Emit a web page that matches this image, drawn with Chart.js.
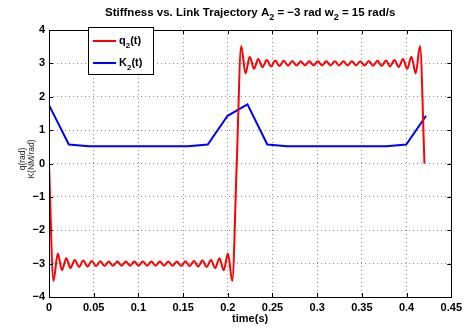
<!DOCTYPE html>
<html>
<head>
<meta charset="utf-8">
<script src="https://cdn.jsdelivr.net/npm/chart.js@4.4.1/dist/chart.umd.min.js"></script>
<style>
  html, body { margin: 0; padding: 0; background: #fff; }
  #wrap { width: 466px; height: 327px; }
</style>
</head>
<body>
<div id="wrap"><canvas id="stiffChart" width="466" height="327"></canvas></div>
<script>
// q2(t): turning points of the ringing
const qTime = [
  0, 0.0050, 0.0098, 0.0145, 0.0193, 0.0240, 0.0288, 0.0336, 0.0383, 0.0431, 0.0478,
  0.0526, 0.0574, 0.0621, 0.0669, 0.0716, 0.0764, 0.0812, 0.0859, 0.0907, 0.0954,
  0.1002, 0.1050, 0.1098, 0.1145, 0.1193, 0.1240, 0.1288, 0.1336, 0.1383, 0.1431,
  0.1478, 0.1526, 0.1574, 0.1621, 0.1669, 0.1716, 0.1764, 0.1812, 0.1859, 0.1907,
  0.1954, 0.2002, 0.2050, 0.2100,
  0.2150, 0.2198, 0.2245, 0.2293, 0.2340, 0.2388, 0.2436, 0.2483, 0.2531, 0.2578,
  0.2626, 0.2674, 0.2721, 0.2769, 0.2816, 0.2864, 0.2912, 0.2959, 0.3007, 0.3054,
  0.3102, 0.3150, 0.3198, 0.3245, 0.3293, 0.3340, 0.3388, 0.3436, 0.3483, 0.3531,
  0.3578, 0.3626, 0.3674, 0.3721, 0.3769, 0.3816, 0.3864, 0.3912, 0.3959, 0.4007,
  0.4054, 0.4102, 0.4150, 0.4200
];
const qValue = [
  0, -3.52, -2.70, -3.20, -2.84, -3.13, -2.89, -3.10, -2.91, -3.085, -2.92,
  -3.075, -2.93, -3.07, -2.935, -3.065, -2.94, -3.06, -2.94, -3.06, -2.94,
  -3.06, -2.94, -3.06, -2.94, -3.06, -2.94, -3.06, -2.94, -3.065, -2.935,
  -3.07, -2.93, -3.075, -2.92, -3.085, -2.91, -3.10, -2.89, -3.13, -2.84,
  -3.20, -2.70, -3.52, 0,
  3.52, 2.70, 3.20, 2.84, 3.13, 2.89, 3.10, 2.91, 3.085, 2.92,
  3.075, 2.93, 3.07, 2.935, 3.065, 2.94, 3.06, 2.94, 3.06, 2.94,
  3.06, 2.94, 3.06, 2.94, 3.06, 2.94, 3.06, 2.94, 3.065, 2.935,
  3.07, 2.93, 3.075, 2.92, 3.085, 2.91, 3.10, 2.89, 3.13, 2.84,
  3.20, 2.70, 3.52, 0
];

// K2(t) samples
const kTime = [0, 0.0222, 0.0444, 0.0666, 0.0888, 0.1110, 0.1332, 0.1554, 0.1776, 0.1998,
               0.2220, 0.2442, 0.2664, 0.2886, 0.3108, 0.3330, 0.3552, 0.3774, 0.3996, 0.4218];
const kValue = [1.75, 0.57, 0.52, 0.52, 0.52, 0.52, 0.52, 0.52, 0.57, 1.43,
                1.77, 0.57, 0.52, 0.52, 0.52, 0.52, 0.52, 0.52, 0.57, 1.43];

const xTickLabels = ['0', '0.05', '0.1', '0.15', '0.2', '0.25', '0.3', '0.35', '0.4', '0.45'];
const yTickLabels = ['\u22124', '\u22123', '\u22122', '\u22121', '0', '1', '2', '3', '4'];

const FONT = '"Liberation Sans", Arial, Helvetica, sans-serif';

// draw text with subscripts, parts = [[text, isSub], ...]
function drawRich(ctx, parts, x, baseline, size, align) {
  const subSize = Math.round(size * 0.75);
  let total = 0;
  parts.forEach(p => {
    ctx.font = 'bold ' + (p[1] ? subSize : size) + 'px ' + FONT;
    total += ctx.measureText(p[0]).width;
  });
  let cx = align === 'center' ? x - total / 2 : x;
  ctx.textAlign = 'left';
  ctx.textBaseline = 'alphabetic';
  parts.forEach(p => {
    ctx.font = 'bold ' + (p[1] ? subSize : size) + 'px ' + FONT;
    ctx.fillText(p[0], cx, baseline + (p[1] ? 4 : 0));
    cx += ctx.measureText(p[0]).width;
  });
}

const decor = {
  id: 'decor',
  afterDraw(chart) {
    const { ctx, chartArea: a, scales: { x, y } } = chart;
    ctx.save();
    ctx.fillStyle = '#000';
    ctx.strokeStyle = '#000';
    ctx.lineWidth = 1;

    // inward tick marks on all four sides
    ctx.beginPath();
    x.ticks.forEach(t => {
      const px = Math.round(x.getPixelForValue(t.value)) + 0.5;
      ctx.moveTo(px, a.bottom); ctx.lineTo(px, a.bottom - 4);
      ctx.moveTo(px, a.top); ctx.lineTo(px, a.top + 4);
    });
    y.ticks.forEach(t => {
      const py = Math.round(y.getPixelForValue(t.value)) + 0.5;
      ctx.moveTo(a.left, py); ctx.lineTo(a.left + 4, py);
      ctx.moveTo(a.right, py); ctx.lineTo(a.right - 4, py);
    });
    ctx.stroke();

    // axes box
    ctx.strokeRect(Math.round(a.left) + 0.5, Math.round(a.top) + 0.5,
                   Math.round(a.right - a.left), Math.round(a.bottom - a.top));

    // title
    drawRich(ctx, [['Stiffness vs. Link Trajectory A', false], ['2', true],
                   [' = \u22123 rad w', false], ['2', true], [' = 15 rad/s', false]],
             (a.left + a.right) / 2, 16, 11.5, 'center');

    // x label
    ctx.font = 'bold 11px ' + FONT;
    ctx.textAlign = 'center';
    ctx.textBaseline = 'alphabetic';
    ctx.fillText('time(s)', (a.left + a.right) / 2, 322);

    // y label (two lines, rotated)
    ctx.save();
    ctx.translate(27, 159);
    ctx.rotate(-Math.PI / 2);
    ctx.font = '8.5px ' + FONT;
    ctx.fillStyle = '#222';
    ctx.textAlign = 'center';
    ctx.textBaseline = 'middle';
    ctx.fillText('q(rad)', 0, -4.5);
    ctx.fillText('K(NM/rad)', 0, 4.5);
    ctx.restore();

    // legend box
    const lx = Math.round(a.left) + 39, ly = Math.round(a.top) - 3;
    ctx.fillStyle = '#fff';
    ctx.fillRect(lx, ly, 65, 47);
    ctx.strokeRect(lx + 0.5, ly + 0.5, 65, 47);
    const items = [['q', '#ff0000', 14], ['K', '#0000ff', 36]];
    items.forEach(it => {
      ctx.strokeStyle = it[1];
      ctx.lineWidth = 2;
      ctx.beginPath();
      ctx.moveTo(lx + 5, ly + it[2]);
      ctx.lineTo(lx + 28, ly + it[2]);
      ctx.stroke();
      ctx.fillStyle = '#000';
      drawRich(ctx, [[it[0], false], ['2', true], ['(t)', false]], lx + 31, ly + it[2] + 3, 11, 'left');
    });
    ctx.restore();
  }
};

const ctx = document.getElementById('stiffChart').getContext('2d');
new Chart(ctx, {
  type: 'line',
  data: {
    datasets: [
      {
        label: 'q2(t)',
        data: qTime.map((t, i) => ({ x: t, y: qValue[i] })),
        borderColor: '#ff0000',
        borderWidth: 2,
        pointRadius: 0,
        cubicInterpolationMode: 'monotone',
        fill: false
      },
      {
        label: 'K2(t)',
        data: kTime.map((t, i) => ({ x: t, y: kValue[i] })),
        borderColor: '#0000ff',
        borderWidth: 2,
        pointRadius: 0,
        tension: 0,
        fill: false
      }
    ]
  },
  options: {
    responsive: false,
    animation: false,
    devicePixelRatio: 1,
    layout: { padding: { left: 0, right: 13, top: 30, bottom: 0 } },
    plugins: {
      legend: { display: false },
      title: { display: false },
      tooltip: { enabled: false }
    },
    scales: {
      x: {
        type: 'linear',
        min: 0,
        max: 0.45,
        afterFit: s => { s.height = 30; },
        afterBuildTicks: s => { s.ticks = xTickLabels.map((l, i) => ({ value: i * 0.05 })); },
        ticks: {
          autoSkip: false,
          maxRotation: 0,
          padding: 4,
          color: '#000',
          font: { family: FONT, size: 11, weight: 'bold' },
          callback: (v, i) => xTickLabels[i]
        },
        grid: { color: '#8a8a8a', drawTicks: false, lineWidth: 1 },
        border: { display: false, dash: [1, 3] }
      },
      y: {
        type: 'linear',
        min: -4,
        max: 4,
        afterFit: s => { s.width = 49; },
        ticks: {
          stepSize: 1,
          padding: 4,
          color: '#000',
          font: { family: FONT, size: 11, weight: 'bold' },
          callback: (v, i) => yTickLabels[i]
        },
        grid: { color: '#8a8a8a', drawTicks: false, lineWidth: 1 },
        border: { display: false, dash: [1, 3] }
      }
    }
  },
  plugins: [decor]
});
</script>
</body>
</html>
